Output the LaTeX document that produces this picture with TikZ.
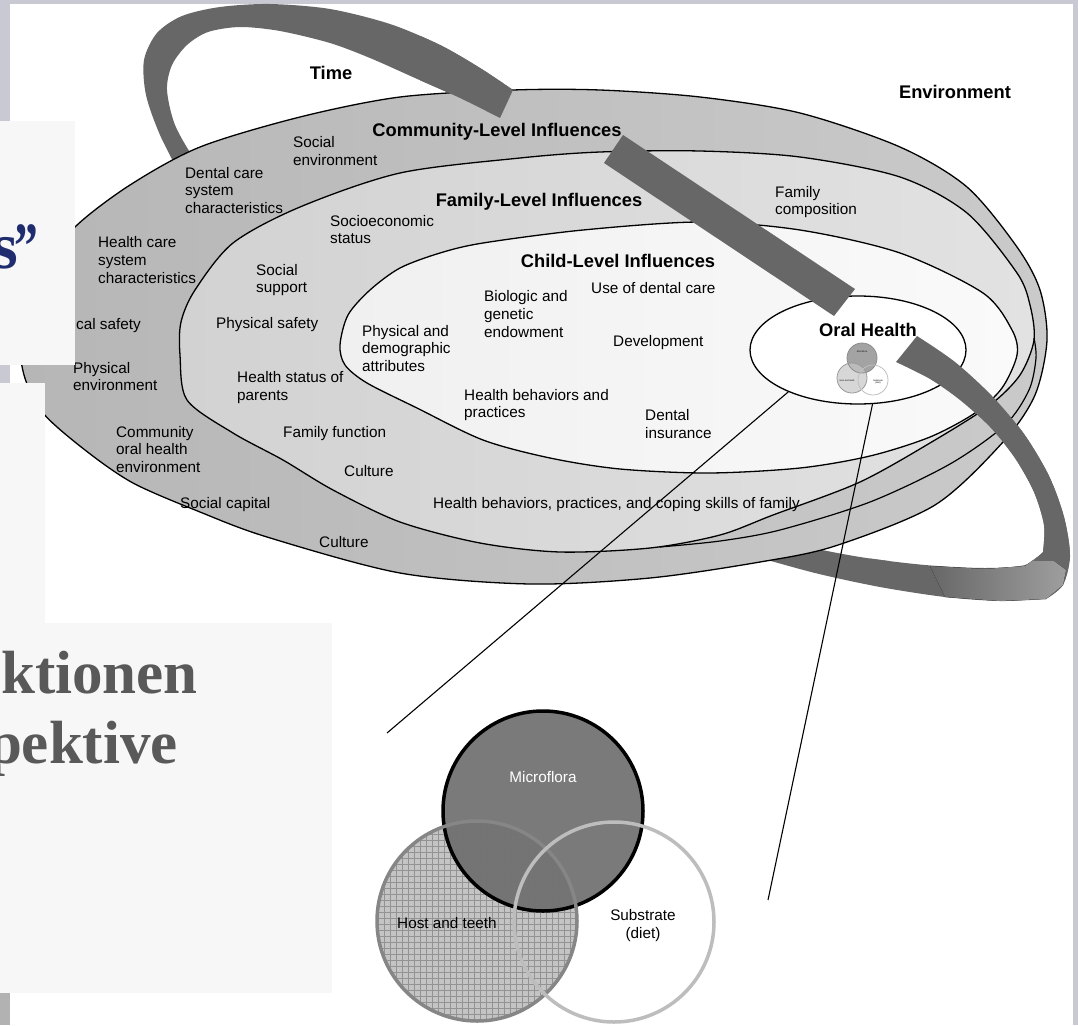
\documentclass[tikz,border=0pt]{standalone}
\usepackage{fontspec}
\newfontfamily\arial{Liberation Sans}
\newfontfamily\slidefont{Liberation Serif}
\usetikzlibrary{shapes.geometric}
\newcommand\lblfont{\arial\fontsize{15.3}{17.6}\selectfont}
\newcommand\hdrfont{\arial\bfseries\fontsize{18.3}{22}\selectfont}
\newcommand\tinyfont{\arial\fontsize{2.3}{2.6}\selectfont}
\definecolor{ribbon}{HTML}{676767}
\definecolor{bgstrip}{HTML}{C9C9D3}
\definecolor{slidebox}{HTML}{F7F7F7}
\definecolor{slidegray}{HTML}{595959}
\definecolor{navy}{HTML}{1F2D6E}
\definecolor{comL}{HTML}{B6B6B6}
\definecolor{comR}{HTML}{CACACA}
\definecolor{famL}{HTML}{D2D2D2}
\definecolor{famR}{HTML}{E2E2E2}
\definecolor{chiL}{HTML}{F0F0F0}
\definecolor{chiR}{HTML}{FAFAFA}
\definecolor{micro}{HTML}{6C6C6C}
\definecolor{hostfill}{HTML}{C4C4C4}
\definecolor{hostline}{HTML}{868686}
\definecolor{substline}{HTML}{BDBDBD}
\begin{document}
\begin{tikzpicture}[x=1pt,y=-1pt,
  lbl/.style={font=\lblfont, align=left, anchor=west, inner sep=0pt},
  hdr/.style={font=\hdrfont, inner sep=0pt},
  disk/.style={draw=black, line width=1.3pt},
  venntxt/.style={font=\lblfont, align=center, inner sep=0pt},
  tinytxt/.style={font=\tinyfont, align=center, inner sep=0pt},
  conn/.style={draw=black, line width=1.1pt}]
\useasboundingbox (0,0) rectangle (1078,1025);
\clip (0,0) rectangle (1078,1025);
% slide background
\fill[bgstrip] (0,0) rectangle (1078,1025);
\fill[white] (10,4) rectangle (1073,1025);
\fill[black!30] (0,993) rectangle (10,1025);

\def\ribA{plot[smooth] coordinates {(184,182) (160,135) (146,95) (144,60) (157,33) (182,16) (220,7) (270,4) (330,9) (390,24) (440,45) (480,68) (513,90)} -- (500,118) -- plot[smooth] coordinates {(500,118) (460,98) (415,78) (370,58) (330,43) (280,31) (240,27) (208,32) (187,45) (172,65) (167,90) (175,125) (195,160) (212,178)} -- cycle}
\def\ribC{plot[smooth] coordinates {(917,336) (955,362) (992,396) (1024,434) (1049,476) (1064,517) (1070,556) (1063,585) (1046,599)} -- plot[smooth] coordinates {(1046,599) (1000,601) (945,597) (880,587) (815,573) (750,555)} -- (745,528) -- plot[smooth] coordinates {(745,528) (800,545) (860,557) (925,565) (985,568) (1025,565) (1043,552)} -- plot[smooth] coordinates {(1043,552) (1044,525) (1034,492) (1015,458) (990,427) (960,400) (930,379) (896,362)} -- cycle}

% ribbons behind the disks
\fill[ribbon] \ribA;
\fill[ribbon] \ribC;
\fill[left color=ribbon, right color=black!38] (930,566) -- (985,569) -- (1025,566) -- (1043,553) -- (1066,570) -- (1063,585) -- (1046,599) -- (1000,601) -- (945,597) -- cycle;

% community disk
\path[disk, left color=comL, right color=comR] plot[smooth cycle] coordinates {(75,227) (130,185) (200,147) (300,117) (400,97) (513,90) (600,90) (700,97) (800,113) (900,147) (967,187) (1017,247) (1040,290) (1047,340) (1035,395) (1003,442) (935,505) (835,546) (760,562) (650,578) (530,584) (400,573) (267,537) (200,512) (133,483) (85,450) (43,413) (24,375) (20,330) (38,275)};
% family disk
\path[disk, left color=famL, right color=famR] plot[smooth cycle] coordinates {(180,355) (187,400) (233,433) (283,460) (333,490) (400,522) (480,543) (560,552) (650,548) (720,535) (773,515) (860,482) (935,440) (990,405) (1020,375) (1034,340) (1030,305) (1017,273) (967,213) (900,177) (800,157) (700,151) (600,152) (520,158) (400,173) (300,207) (233,243) (195,290) (181,322)};
% family rim line (lower right)
\draw[black, line width=1.2pt] plot[smooth] coordinates {(660,547) (720,541) (780,530) (870,502) (950,464) (1005,425) (1029,390) (1036,358) (1034,338)};
% child disk
\path[disk, left color=chiL, right color=chiR] plot[smooth cycle] coordinates {(340,345) (348,315) (370,290) (400,268) (440,253) (483,243) (583,230) (700,222) (800,230) (900,253) (983,293) (1012,330) (1017,355) (1002,388) (975,413) (930,437) (870,456) (800,468) (709,473) (620,469) (550,458) (483,440) (417,408) (367,383) (345,365)};

% headers
\node[hdr] (time) at (331,73) {Time};
\node[hdr] (env) at (955,92) {Environment};
\node[hdr] (comh) at (497,132) {Community-Level Influences};
\node[hdr] (famh) at (539,202) {Family-Level Influences};
\node[hdr] (chih) at (618,261) {Child-Level Influences};

% community labels
\node[lbl] (c1) at (293,151) {Social\\environment};
\node[lbl] (c2) at (185,190.5) {Dental care\\system\\characteristics};
\node[lbl] (c3) at (98,260) {Health care\\system\\characteristics};
\node[lbl] (c4) at (76,326) {cal safety};
\node[lbl] (c5) at (73,376.5) {Physical\\environment};
\node[lbl] (c6) at (116,449.5) {Community\\oral health\\environment};
\node[lbl] (c7) at (180,505) {Social capital};
\node[lbl] (c8) at (319,542) {Culture};
% family labels
\node[lbl] (f1) at (330,229.5) {Socioeconomic\\status};
\node[lbl] (f2) at (256,280) {Social\\support};
\node[lbl] (f3) at (216,325) {Physical safety};
\node[lbl] (f4) at (237,387.5) {Health status of\\parents};
\node[lbl] (f5) at (283,434) {Family function};
\node[lbl] (f6) at (344,471) {Culture};
\node[lbl] (f7) at (433,505) {Health behaviors, practices, and coping skills of family};
\node[lbl] (f8) at (775,202) {Family\\composition};
% child labels
\node[lbl] (k1) at (484,314) {Biologic and\\genetic\\endowment};
\node[lbl] (k2) at (591,288) {Use of dental care};
\node[lbl] (k3) at (362,348.5) {Physical and\\demographic\\attributes};
\node[lbl] (k4) at (613,343) {Development};
\node[lbl] (k5) at (464,405) {Health behaviors and\\practices};
\node[lbl] (k6) at (645,424) {Dental\\insurance};

% oral health
\node[ellipse, draw=black, line width=1.3pt, fill=white, minimum width=216pt, minimum height=108pt, inner sep=0pt] (oh) at (858,350) {};
\node[hdr] (ohl) at (868,330) {Oral Health};
% small venn
\fill[black!45, opacity=0.8] (862,358) circle [radius=15pt];
\fill[black!22, opacity=0.7] (852,378) circle [radius=15pt];
\draw[black!45, line width=0.8pt] (862,358) circle [radius=15pt];
\draw[black!40, line width=0.8pt] (852,378) circle [radius=15pt];
\draw[black!25, line width=0.8pt] (873,380) circle [radius=15pt];
\node[tinytxt] (sv1) at (862,352) {Microflora};
\node[tinytxt] (sv2) at (847,381) {Host and teeth};
\node[tinytxt] (sv3) at (878,382) {Substrate\\(diet)};

% ribbons in front
\fill[ribbon] (623,135) -- (855,289) -- (834,316) -- (604,163) -- cycle;
\begin{scope}
\clip (420,0) rectangle (620,200);
\fill[ribbon] \ribA;
\end{scope}
\begin{scope}
\clip (870,300) rectangle (1078,560);
\fill[ribbon] \ribC;
\end{scope}

% connectors to the large venn
\coordinate (va) at (387,733);
\coordinate (vb) at (768,900);
\draw[conn] (oh.211.7) -- (va);
\draw[conn] (oh.285.5) -- (vb);

% large venn
\fill[hostfill] (477,921) circle [radius=100pt];
\fill[micro, opacity=0.9] (543,811) circle [radius=100pt];
\begin{scope}
\clip (477,921) circle [radius=100pt];
\draw[black!55, line width=0.5pt, opacity=0.6] (370,815) grid[step=6pt] (590,1025);
\end{scope}
\draw[black, line width=3.5pt] (543,811) circle [radius=100pt];
\draw[hostline, line width=3.5pt] (477,921) circle [radius=100pt];
\draw[substline, line width=3.5pt] (614,922) circle [radius=100pt];
\node[venntxt, text=white] (vm) at (543,777) {Microflora};
\node[venntxt] (vh) at (447,923) {Host and teeth};
\node[venntxt, font=\arial\fontsize{15.3}{18}\selectfont] (vs) at (643,926) {Substrate\\(diet)};

% slide boxes on top
\fill[slidebox] (0,121) rectangle (75,365);
\fill[slidebox] (0,383) rectangle (45,623);
\fill[slidebox] (0,623) rectangle (332,993);
\node[anchor=base west, inner sep=0pt, text=navy, font=\slidefont\bfseries\fontsize{66}{66}\selectfont] (st1) at (-8,268) {s\kern-3pt\scalebox{0.72}[1]{”}};
\node[anchor=base east, inner sep=0pt, text=slidegray, font=\slidefont\bfseries\fontsize{61}{61}\selectfont] (st2) at (198,693) {ktionen};
\node[anchor=base east, inner sep=0pt, text=slidegray, font=\slidefont\bfseries\fontsize{61}{61}\selectfont] (st3) at (178,763) {pektive};
\end{tikzpicture}
\end{document}
